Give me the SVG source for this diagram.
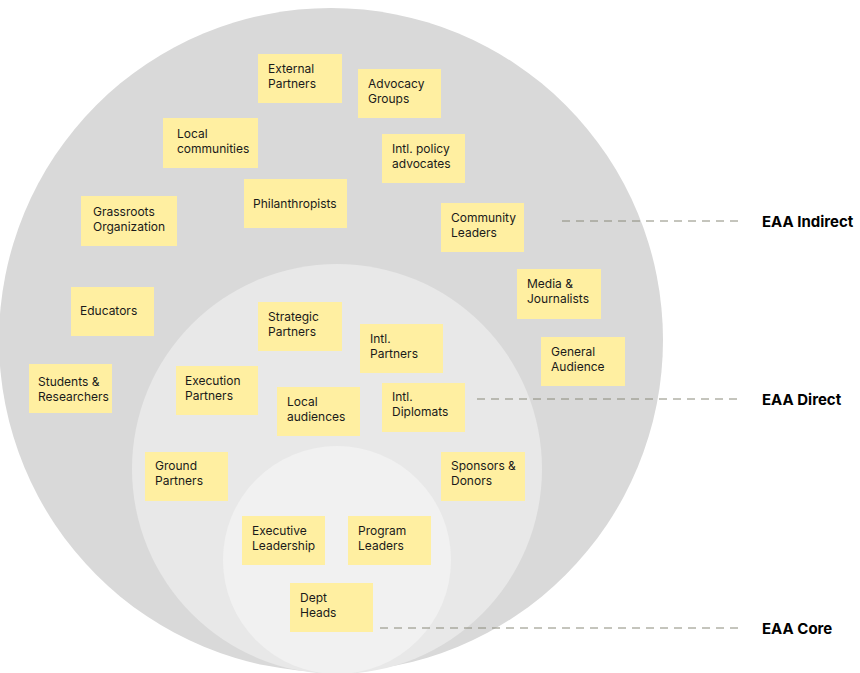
<svg xmlns="http://www.w3.org/2000/svg" width="860" height="673" viewBox="0 0 860 673">
<style>
.n rect{fill:#FFEFA1}
.n text{font-family:Inter,"Liberation Sans",sans-serif;font-size:12px;fill:#1a1a1a}
.lbl{font-family:Inter,"Liberation Sans",sans-serif;font-size:15px;font-weight:bold;fill:#000}
.c line{stroke:#8a8a7a;stroke-width:1;stroke-dasharray:8 6}
</style>
<rect width="860" height="673" fill="#fff"/>
<g id="circles">
<circle cx="331" cy="340" r="332" fill="#d9d9d9"/>
<circle cx="337" cy="469" r="205" fill="#e8e8e8"/>
<circle cx="337" cy="560" r="114" fill="#f1f1f1"/>
</g>
<g class="c" id="connectors">
<line x1="562" y1="221" x2="742" y2="221"/>
<line x1="477" y1="399" x2="742" y2="399"/>
<line x1="380" y1="628" x2="742" y2="628"/>
</g>
<text class="lbl" x="762" y="227">EAA Indirect</text>
<text class="lbl" x="762" y="405">EAA Direct</text>
<text class="lbl" x="762" y="634">EAA Core</text>
<g class="n" id="n1"><rect x="258" y="54" width="84" height="49"/><text x="268" y="73">External</text><text x="268" y="88">Partners</text></g>
<g class="n" id="n2"><rect x="358" y="69" width="83" height="49"/><text x="368" y="88">Advocacy</text><text x="368" y="103">Groups</text></g>
<g class="n" id="n3"><rect x="163" y="118" width="95" height="50"/><text x="177" y="138">Local</text><text x="177" y="153">communities</text></g>
<g class="n" id="n4"><rect x="382" y="134" width="83" height="49"/><text x="392" y="153">Intl. policy</text><text x="392" y="168">advocates</text></g>
<g class="n" id="n5"><rect x="244" y="179" width="103" height="49"/><text x="253" y="208">Philanthropists</text></g>
<g class="n" id="n6"><rect x="81" y="196" width="96" height="50"/><text x="93" y="216">Grassroots</text><text x="93" y="231">Organization</text></g>
<g class="n" id="n7"><rect x="441" y="203" width="83" height="49"/><text x="451" y="222">Community</text><text x="451" y="237">Leaders</text></g>
<g class="n" id="n8"><rect x="71" y="287" width="83" height="49"/><text x="80" y="315">Educators</text></g>
<g class="n" id="n9"><rect x="517" y="269" width="84" height="50"/><text x="527" y="288">Media &amp;</text><text x="527" y="303">Journalists</text></g>
<g class="n" id="n10"><rect x="258" y="302" width="84" height="49"/><text x="268" y="321">Strategic</text><text x="268" y="336">Partners</text></g>
<g class="n" id="n11"><rect x="360" y="324" width="83" height="49"/><text x="370" y="343">Intl.</text><text x="370" y="358">Partners</text></g>
<g class="n" id="n12"><rect x="541" y="337" width="84" height="49"/><text x="551" y="356">General</text><text x="551" y="371">Audience</text></g>
<g class="n" id="n13"><rect x="29" y="364" width="83" height="49"/><text x="38" y="386">Students &amp;</text><text x="38" y="401">Researchers</text></g>
<g class="n" id="n14"><rect x="176" y="366" width="82" height="49"/><text x="185" y="385">Execution</text><text x="185" y="400">Partners</text></g>
<g class="n" id="n15"><rect x="277" y="387" width="83" height="49"/><text x="287" y="406">Local</text><text x="287" y="421">audiences</text></g>
<g class="n" id="n16"><rect x="382" y="383" width="83" height="49"/><text x="392" y="401">Intl.</text><text x="392" y="416">Diplomats</text></g>
<g class="n" id="n17"><rect x="145" y="452" width="83" height="49"/><text x="155" y="470">Ground</text><text x="155" y="485">Partners</text></g>
<g class="n" id="n18"><rect x="441" y="452" width="84" height="49"/><text x="451" y="470">Sponsors &amp;</text><text x="451" y="485">Donors</text></g>
<g class="n" id="n19"><rect x="242" y="516" width="83" height="49"/><text x="252" y="535">Executive</text><text x="252" y="550">Leadership</text></g>
<g class="n" id="n20"><rect x="348" y="516" width="83" height="49"/><text x="358" y="535">Program</text><text x="358" y="550">Leaders</text></g>
<g class="n" id="n21"><rect x="290" y="583" width="83" height="49"/><text x="300" y="602">Dept</text><text x="300" y="617">Heads</text></g>
</svg>
